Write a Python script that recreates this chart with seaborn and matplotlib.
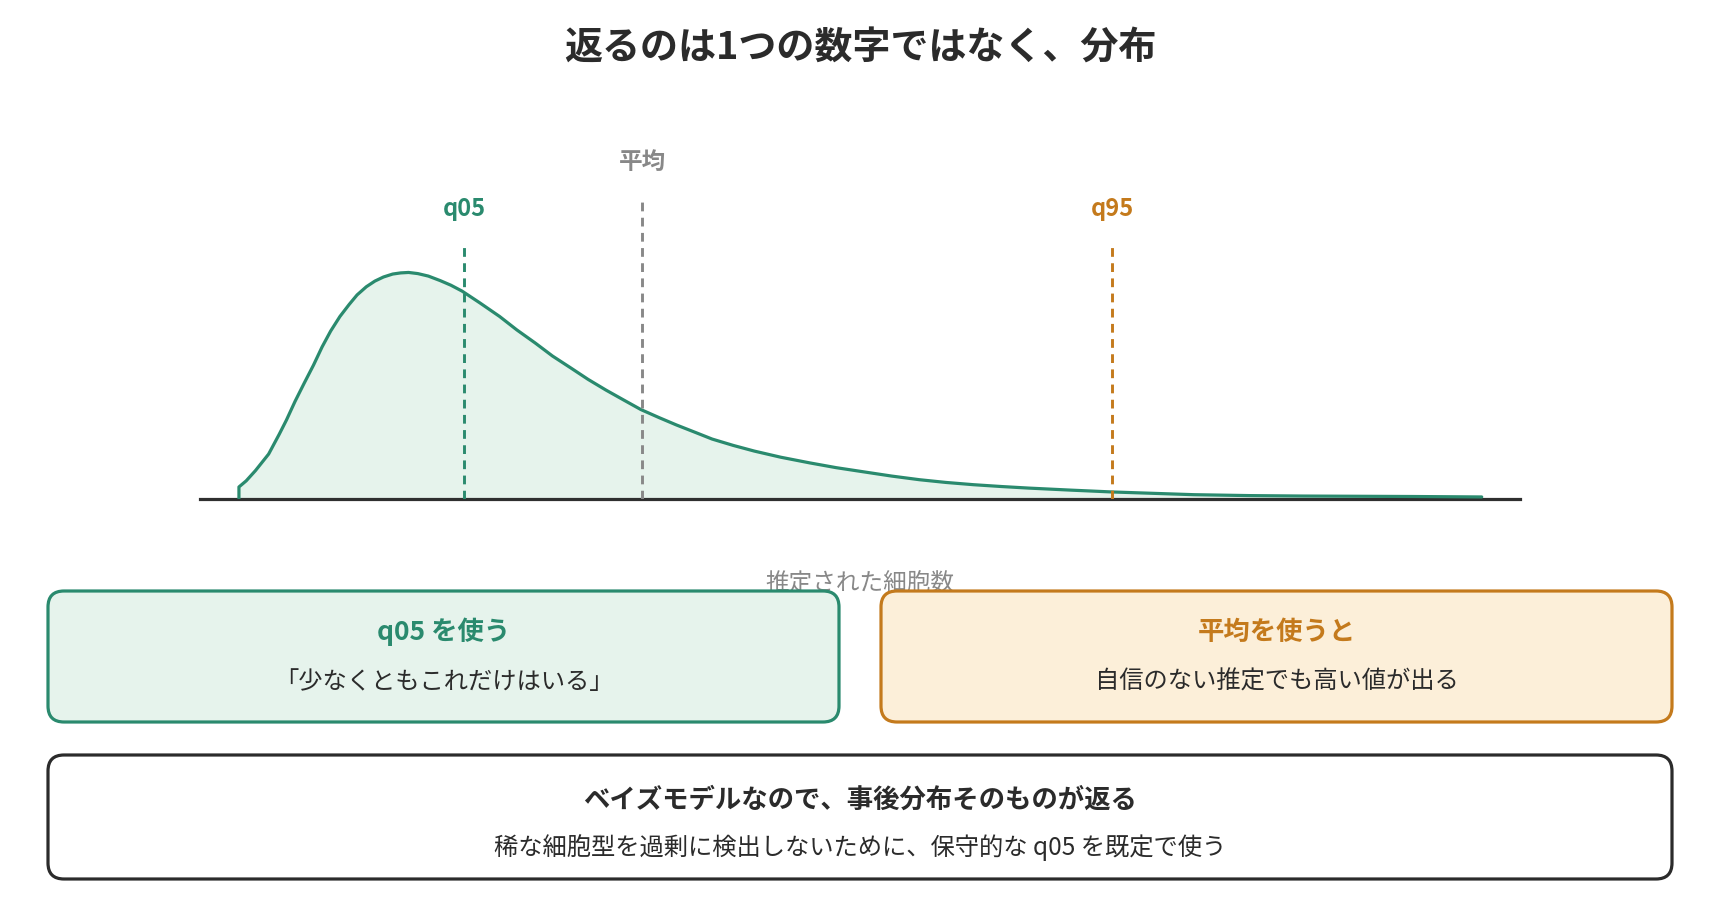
import seaborn as sns
import matplotlib.pyplot as plt
import pandas as pd
from matplotlib.patches import FancyBboxPatch

# posterior density (x: estimated cell count, y: relative density)
cell_count = [2.95, 2.95, 3.5, 4.2, 5.2, 6.0, 6.55, 7.2, 7.9, 8.6, 9.25, 9.9, 10.6,
              11.3, 11.9, 12.6, 13.25, 13.9, 14.6, 15.2, 15.8, 16.5, 17.3, 18.2,
              19.0, 19.85, 21.2, 22.7, 24.0, 25.4, 26.7, 28.1, 29.4, 30.75, 32.1,
              33.4, 34.8, 36.1, 37.5, 38.8, 40.4, 42.0, 44.0, 46.2, 48.2, 50.35,
              52.4, 54.5, 56.5, 58.6, 60.7, 62.8, 66.0, 69.1, 72.2, 75.3, 79.5,
              83.6, 87.8, 91.9, 97.1]
density = [0.0, 0.053, 0.08, 0.125, 0.198, 0.285, 0.348, 0.43, 0.511, 0.59, 0.670,
           0.74, 0.804, 0.857, 0.899, 0.935, 0.960, 0.978, 0.991, 0.996, 0.998,
           0.993, 0.982, 0.962, 0.942, 0.916, 0.864, 0.804, 0.745, 0.687, 0.630,
           0.577, 0.527, 0.480, 0.436, 0.394, 0.358, 0.326, 0.294, 0.264, 0.236,
           0.211, 0.184, 0.159, 0.138, 0.119, 0.101, 0.085, 0.073, 0.063, 0.055,
           0.048, 0.039, 0.031, 0.025, 0.019, 0.015, 0.013, 0.012, 0.011, 0.009]

marker_names = ["q05", "平均", "q95"]
marker_values = [20.0, 33.5, 69.1]

title = "返るのは1つの数字ではなく、分布"
x_label = "推定された細胞数"
card_titles = ["q05 を使う", "平均を使うと"]
card_texts = ["「少なくともこれだけはいる」", "自信のない推定でも高い値が出る"]
note_title = "ベイズモデルなので、事後分布そのものが返る"
note_text = "稀な細胞型を過剰に検出しないために、保守的な q05 を既定で使う"

GREEN = "#2a8a6e"
GREEN_FILL = "#e6f3ec"
ORANGE = "#c47a1c"
ORANGE_FILL = "#fcefd9"
GREY = "#888888"
DARK = "#2b2b2b"

sns.set_theme(style="white")
plt.rcParams["font.family"] = ["Noto Sans CJK JP", "DejaVu Sans"]

W, H = 1720, 912
fig = plt.figure(figsize=(W / 100, H / 100), dpi=100)
fig.patch.set_facecolor("white")

# main density axes: baseline at y=500px, spans x 200..1520px
ax = fig.add_axes([200 / W, (H - 500) / H, 1320 / W, 363.2 / H])
df = pd.DataFrame({"cells": cell_count, "density": density})
ax.fill_between(df["cells"], df["density"], color=GREEN_FILL, lw=0, zorder=1)
sns.lineplot(data=df, x="cells", y="density", sort=False, estimator=None,
             color=GREEN, lw=2.3, ax=ax, zorder=3)

marker_colors = [GREEN, GREY, ORANGE]
line_tops = [1.128, 1.33, 1.128]
label_y = [1.28, 1.49, 1.28]
for name, val, c, top, ly in zip(marker_names, marker_values, marker_colors, line_tops, label_y):
    ax.vlines(val, 0, top, colors=c, lw=2.1, linestyles=(0, (3, 2.2)), zorder=4)
    ax.text(val, ly, name, color=c, fontsize=17, fontweight="bold",
            ha="center", va="center", clip_on=False)

ax.set_xlim(0, 100)
ax.set_ylim(0, 1.6)
ax.set_xticks([])
ax.set_yticks([])
ax.set_xlabel("")
ax.set_ylabel("")
for s in ["top", "left", "right"]:
    ax.spines[s].set_visible(False)
ax.spines["bottom"].set_color("#2f2f2f")
ax.spines["bottom"].set_linewidth(2.3)
ax.patch.set_alpha(0)

# overlay in pixel coordinates for title, axis label and cards
ov = fig.add_axes([0, 0, 1, 1])
ov.set_xlim(0, W)
ov.set_ylim(H, 0)
ov.axis("off")

ov.text(860, 48, title, fontsize=27.4, fontweight="bold", color=DARK,
        ha="center", va="center")
ov.text(860, 584, x_label, fontsize=17, color=GREY, ha="center", va="center", zorder=1)


def card(x0, y0, x1, y1, edge, face, head, body, head_color, head_y, body_y):
    box = FancyBboxPatch((x0, y0), x1 - x0, y1 - y0,
                         boxstyle="round,pad=0,rounding_size=16",
                         fc=face, ec=edge, lw=2.3, zorder=2)
    ov.add_patch(box)
    cx = (x0 + x1) / 2
    ov.text(cx, head_y, head, fontsize=19, fontweight="bold", color=head_color,
            ha="center", va="center", zorder=3)
    ov.text(cx, body_y, body, fontsize=17.5, color=DARK,
            ha="center", va="center", zorder=3)


card(48, 592, 839, 723, GREEN, GREEN_FILL, card_titles[0], card_texts[0], GREEN, 632, 682)
card(881, 592, 1672, 723, ORANGE, ORANGE_FILL, card_titles[1], card_texts[1], ORANGE, 632, 682)
card(48, 756, 1672, 880, DARK, "white", note_title, note_text, DARK, 800, 848)

fig.savefig("out.png", dpi=100)
